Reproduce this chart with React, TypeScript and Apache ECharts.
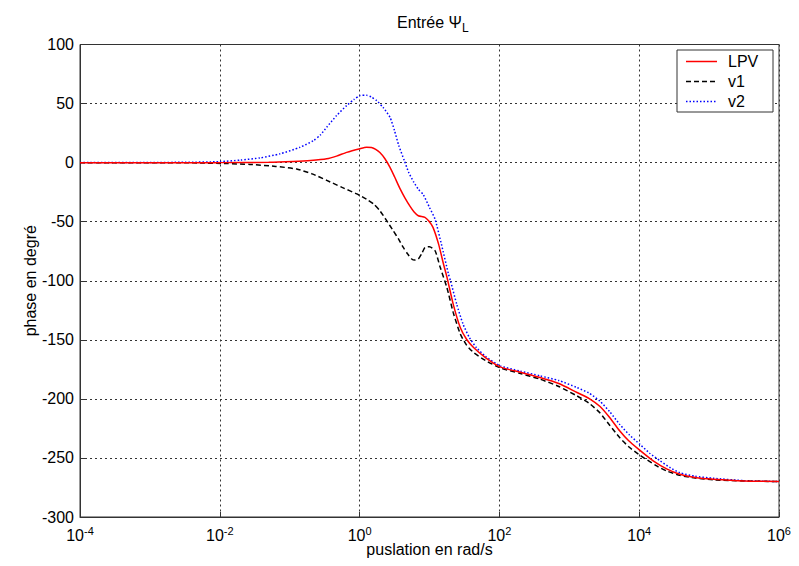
import React, { useEffect, useRef } from "react";
import * as echarts from "echarts";

// x values are log10 of the pulsation (rad/s)
const xTicks = [-4, -2, 0, 2, 4, 6];
const yTicks = [100, 50, 0, -50, -100, -150, -200, -250, -300];
const legendNames = ["LPV", "v1", "v2"];

const lpv: [number, number][] = [
  [-4, 0], [-3, 0], [-2, 0], [-1.3, 0.3], [-0.95, 1], [-0.7, 1.8], [-0.47, 3.2], [-0.33, 5.5], [-0.185, 8.7],
  [0.006, 11.8], [0.1, 13], [0.17, 12.8], [0.23, 11.3], [0.29, 8.5], [0.36, 3.5], [0.435, -4], [0.5, -12],
  [0.578, -22], [0.65, -30], [0.72, -36.8], [0.78, -41.8], [0.84, -45], [0.935, -46.4], [0.99, -49.5],
  [1.05, -54.8], [1.13, -69], [1.2, -85.8], [1.25, -97], [1.34, -120], [1.44, -139.6], [1.53, -149.5],
  [1.63, -156.5], [1.8, -165], [2.01, -172.9], [2.3, -177.5], [2.58, -181.9], [2.85, -187], [3.11, -194.6],
  [3.28, -199.5], [3.44, -206.5], [3.58, -216], [3.72, -227], [3.85, -235.5], [3.99, -242.6], [4.2, -252.5],
  [4.4, -259.5], [4.58, -263.8], [4.8, -266.5], [5.06, -268], [5.5, -269.5], [6, -270],
];

const v1: [number, number][] = [
  [-4, 0], [-3, 0], [-2.5, -0.1], [-2.28, -0.3], [-1.9, -0.8], [-1.57, -1.5], [-1.2, -3.2], [-0.9, -5.4],
  [-0.68, -9.5], [-0.47, -15], [-0.25, -21], [-0.04, -26.5], [0.1, -31], [0.2, -35], [0.29, -40.7],
  [0.38, -48.5], [0.48, -57.6], [0.56, -65], [0.625, -71.8], [0.69, -77.5], [0.745, -81.6], [0.79, -82.5],
  [0.84, -81.6], [0.89, -77], [0.935, -71.8], [1.0, -71.2], [1.08, -74.6], [1.15, -88], [1.25, -106],
  [1.34, -127], [1.44, -145], [1.53, -154.5], [1.63, -160.7], [1.8, -167.5], [2.01, -173.7], [2.3, -178.5],
  [2.58, -183.3], [2.85, -189.5], [3.11, -197.5], [3.28, -203.5], [3.44, -212], [3.58, -222.5], [3.72, -232.8],
  [3.85, -240.5], [3.99, -246.9], [4.25, -256.8], [4.4, -261.2], [4.58, -264.7], [4.8, -267], [5.06, -268.5],
  [5.5, -269.5], [6, -270],
];

const v2: [number, number][] = [
  [-4, 0], [-3, 0.1], [-2.5, 0.3], [-2, 0.8], [-1.7, 2.2], [-1.425, 4], [-1.14, 7.4], [-0.853, 13],
  [-0.66, 18.6], [-0.56, 23.5], [-0.47, 30], [-0.33, 39.8], [-0.185, 48.3], [-0.08, 53.5], [0.006, 56.8],
  [0.1, 57], [0.17, 55.5], [0.245, 52.5], [0.34, 46.5], [0.435, 38.4], [0.5, 27], [0.56, 14.5], [0.64, 1.7],
  [0.7, -8], [0.77, -16], [0.84, -22.5], [0.91, -27], [1.0, -38], [1.08, -48], [1.17, -69], [1.27, -94],
  [1.3, -100], [1.39, -120], [1.48, -136.7], [1.57, -148], [1.67, -156.5], [1.8, -164], [2.01, -172],
  [2.3, -176.5], [2.58, -180.5], [2.85, -184.5], [3.11, -190.4], [3.28, -195], [3.44, -202], [3.58, -211],
  [3.72, -221.5], [3.86, -230.5], [4.01, -238.5], [4.15, -246], [4.3, -252.5], [4.45, -258.5], [4.58, -262.5],
  [4.8, -265.5], [5.06, -267.2], [5.5, -269.2], [6, -270],
];

const FONT = "'Liberation Sans', Arial, sans-serif";

const lineStyles: Record<string, any> = {
  LPV: { stroke: "#ff0000", lineWidth: 1.5, lineDash: null },
  v1: { stroke: "#000000", lineWidth: 1.5, lineDash: [5, 3] },
  v2: { stroke: "#0000ff", lineWidth: 1.5, lineDash: [1.5, 2] },
};

export default function App() {
  const ref = useRef<HTMLDivElement>(null);
  useEffect(() => {
    if (!ref.current) return;
    const chart = echarts.init(ref.current, null, { renderer: "svg" });

    const legendGraphic: any[] = [
      {
        type: "rect",
        shape: { x: 677, y: 50, width: 96, height: 62 },
        style: { fill: "#fff", stroke: "#333", lineWidth: 1 },
        z: 100,
      },
    ];
    legendNames.forEach((name, i) => {
      const y = 61.5 + i * 20;
      const s = lineStyles[name];
      legendGraphic.push({
        type: "line",
        shape: { x1: 686, y1: y, x2: 717, y2: y },
        style: { stroke: s.stroke, lineWidth: s.lineWidth, lineDash: s.lineDash },
        z: 101,
      });
      legendGraphic.push({
        type: "text",
        x: 728,
        y: y,
        style: {
          text: name,
          fontFamily: FONT,
          fontSize: 16,
          fill: "#000",
          verticalAlign: "middle",
          align: "left",
        },
        z: 101,
      });
    });

    const option: any = {
      animation: false,
      backgroundColor: "#ffffff",
      textStyle: { fontFamily: FONT },
      title: {
        text: "Entrée Ψ{sub|L}",
        left: 392,
        top: 5,
        textStyle: {
          fontFamily: FONT,
          fontSize: 16,
          fontWeight: "normal",
          color: "#000",
          rich: {
            sub: { fontSize: 12, fontFamily: FONT, color: "#000", padding: [12, 0, 0, 0] },
          },
        },
      },
      grid: {
        left: 80,
        right: 20,
        top: 44.5,
        bottom: 49,
        show: true,
        borderColor: "#333",
        borderWidth: 1,
      },
      graphic: legendGraphic,
      xAxis: {
        type: "value",
        min: -4,
        max: 6,
        interval: 2,
        name: "puslation en rad/s",
        nameLocation: "middle",
        nameGap: 24,
        nameMoveOverlap: false,
        nameTextStyle: { fontFamily: FONT, fontSize: 16, color: "#000" },
        axisLine: { show: true, onZero: false, lineStyle: { color: "#333" } },
        axisTick: { show: true, inside: true, length: 5, lineStyle: { color: "#333" } },
        splitLine: { show: true, lineStyle: { color: "#333", type: [2, 3], width: 1 } },
        axisLabel: {
          margin: 8,
          fontFamily: FONT,
          fontSize: 16,
          color: "#000",
          formatter: (v: number) => (xTicks.includes(v) ? `10{sup|${v}}` : ""),
          rich: {
            sup: { fontSize: 11, fontFamily: FONT, color: "#000", padding: [0, 0, 10, 0] },
          },
        },
      },
      yAxis: {
        type: "value",
        min: -300,
        max: 100,
        interval: 50,
        name: "phase en degré",
        nameLocation: "middle",
        nameGap: 42,
        nameRotate: 90,
        nameMoveOverlap: false,
        nameTextStyle: { fontFamily: FONT, fontSize: 16, color: "#000" },
        axisLine: { show: true, onZero: false, lineStyle: { color: "#333" } },
        axisTick: { show: true, inside: true, length: 5, lineStyle: { color: "#333" } },
        splitLine: { show: true, lineStyle: { color: "#333", type: [2, 3], width: 1 } },
        axisLabel: {
          margin: 6,
          fontFamily: FONT,
          fontSize: 16,
          color: "#000",
          formatter: (v: number) => (yTicks.includes(v) ? String(v) : ""),
        },
      },
      series: [
        {
          name: "v2",
          type: "line",
          data: v2,
          smooth: 0.2,
          symbol: "none",
          z: 3,
          lineStyle: { color: "#0000ff", width: 1.5, type: [1.5, 2] },
        },
        {
          name: "v1",
          type: "line",
          data: v1,
          smooth: 0.2,
          symbol: "none",
          z: 4,
          lineStyle: { color: "#000000", width: 1.5, type: [5, 3] },
        },
        {
          name: "LPV",
          type: "line",
          data: lpv,
          smooth: 0.2,
          symbol: "none",
          z: 5,
          lineStyle: { color: "#ff0000", width: 1.5, type: "solid" },
        },
      ],
    };
    chart.setOption(option);
    return () => chart.dispose();
  }, []);
  return <div ref={ref} style={{ width: 799, height: 566, margin: -8 }} />;
}
